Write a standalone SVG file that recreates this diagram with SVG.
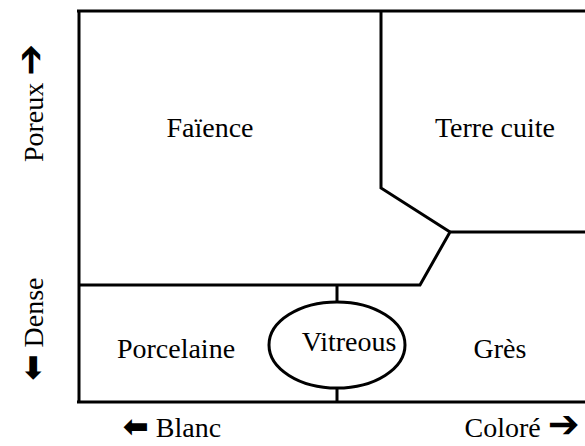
<svg xmlns="http://www.w3.org/2000/svg" width="585" height="446" viewBox="0 0 585 446">
<style>
.ln{fill:none;stroke:#000;stroke-width:3;stroke-linejoin:miter}
.t{font-family:"Liberation Serif","Times New Roman",serif;font-size:28px;fill:#000;text-anchor:middle}
.al{font-family:"DejaVu Sans",sans-serif;font-weight:bold;font-size:31px}
.ar{font-family:"DejaVu Sans",sans-serif;font-weight:bold;font-size:38px}
</style>
<rect width="585" height="446" fill="#fff"/>
<g id="connectors">
<path class="ln" d="M77,11 H585"/>
<path class="ln" d="M79,10 V403"/>
<path class="ln" d="M77,402 H585"/>
<path class="ln" d="M79,285 H420 L450,232 H585"/>
<path class="ln" d="M381,11 V188 L450,232"/>
<path class="ln" d="M337,285 V302 M337,388 V402"/>
</g>
<g id="faience"><text class="t" x="210" y="137">Faïence</text></g>
<g id="terre-cuite"><text class="t" x="495" y="137">Terre cuite</text></g>
<g id="porcelaine"><text class="t" x="176" y="358">Porcelaine</text></g>
<g id="vitreous"><ellipse class="ln" cx="337" cy="345" rx="68" ry="43"/><text class="t" x="349" y="351">Vitreous</text></g>
<g id="gres"><text class="t" x="500" y="358">Grès</text></g>
<g id="axis-x">
<text class="t" x="172" y="437"><tspan class="al">⬅</tspan> Blanc</text>
<text class="t" x="522" y="437">Coloré <tspan class="ar">➔</tspan></text>
</g>
<g id="axis-y">
<text class="t" transform="translate(43,103) rotate(-90)">Poreux <tspan class="ar">➔</tspan></text>
<text class="t" transform="translate(43,329) rotate(-90)"><tspan class="al">⬅</tspan> Dense</text>
</g>
</svg>
